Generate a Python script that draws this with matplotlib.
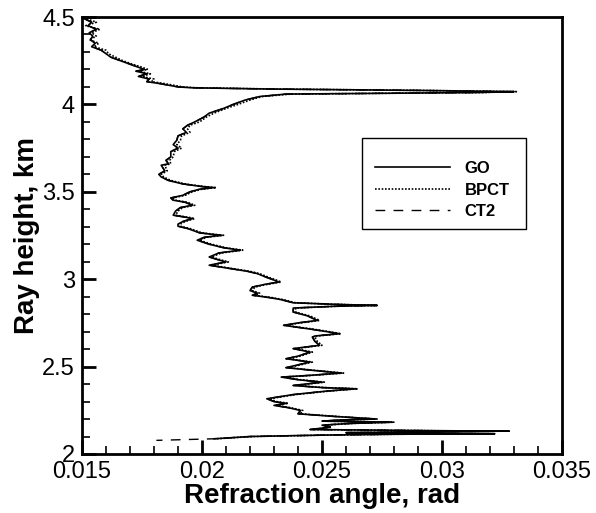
import matplotlib
matplotlib.use("Agg")
import matplotlib.pyplot as plt
from matplotlib.ticker import MultipleLocator
from matplotlib.patches import Rectangle

plt.rcParams['font.family'] = ['Liberation Sans', 'DejaVu Sans']

# Ray height (km), shared by the three profiles
height = [
    4.49, 4.47, 4.45, 4.43, 4.41, 4.39, 4.37, 4.35, 4.33, 4.31,
    4.29, 4.27, 4.25, 4.23, 4.215, 4.20, 4.19, 4.175, 4.16, 4.145,
    4.13, 4.12, 4.11, 4.10, 4.095, 4.088, 4.080, 4.073, 4.068, 4.063,
    4.059, 4.045, 4.025, 4.00, 3.977, 3.95, 3.929, 3.90, 3.881, 3.86,
    3.84, 3.82, 3.795, 3.77, 3.75, 3.73, 3.70, 3.68, 3.66, 3.652,
    3.62, 3.60, 3.585, 3.565, 3.545, 3.530, 3.524, 3.515, 3.50, 3.48,
    3.465, 3.452, 3.44, 3.423, 3.41, 3.39, 3.366, 3.355, 3.347, 3.33,
    3.315, 3.303, 3.29, 3.28, 3.265, 3.251, 3.24, 3.223, 3.20, 3.18,
    3.166, 3.15, 3.127, 3.11, 3.099, 3.08, 3.06, 3.045, 3.032, 3.01,
    2.995, 2.984, 2.97, 2.955, 2.935, 2.92, 2.908, 2.895, 2.883, 2.865,
    2.855, 2.850, 2.845, 2.835, 2.812, 2.79, 2.764, 2.75, 2.736, 2.715,
    2.700, 2.688, 2.675, 2.669, 2.645, 2.622, 2.603, 2.583, 2.56, 2.545,
    2.526, 2.51, 2.494, 2.48, 2.463, 2.45, 2.44, 2.425, 2.411, 2.40,
    2.392, 2.38, 2.373, 2.36, 2.34, 2.316, 2.30, 2.29, 2.278, 2.265,
    2.249, 2.23, 2.215, 2.20, 2.195, 2.188, 2.182, 2.175, 2.165, 2.153,
    2.14, 2.133, 2.131, 2.127, 2.122, 2.118, 2.116, 2.113, 2.108, 2.10,
    2.093, 2.087,
]

# Refraction angle (rad), GO
go_angle = [
    0.01510, 0.01540, 0.01525, 0.01560, 0.01530, 0.01545, 0.01535, 0.01555, 0.01540, 0.01580,
    0.01600, 0.01620, 0.01660, 0.01700, 0.01730, 0.01760, 0.01725, 0.01770, 0.01735, 0.01780,
    0.01770, 0.01820, 0.01860, 0.01900, 0.01960, 0.02280, 0.02900, 0.03300, 0.03150, 0.02700,
    0.02350, 0.02240, 0.02180, 0.02130, 0.02090, 0.02030, 0.02010, 0.01970, 0.01940, 0.01920,
    0.01935, 0.01900, 0.01895, 0.01880, 0.01900, 0.01870, 0.01870, 0.01850, 0.01860, 0.01830,
    0.01845, 0.01820, 0.01830, 0.01860, 0.01920, 0.02000, 0.02050, 0.01990, 0.01950, 0.01920,
    0.01870, 0.01880, 0.01930, 0.01960, 0.01910, 0.01890, 0.01880, 0.01930, 0.01960, 0.01920,
    0.01900, 0.01900, 0.01940, 0.01960, 0.01990, 0.02080, 0.02010, 0.01980, 0.02030, 0.02090,
    0.02160, 0.02070, 0.02030, 0.02070, 0.02100, 0.02030, 0.02120, 0.02190, 0.02230, 0.02270,
    0.02300, 0.02320, 0.02260, 0.02210, 0.02200, 0.02230, 0.02210, 0.02280, 0.02330, 0.02380,
    0.02580, 0.02730, 0.02550, 0.02380, 0.02380, 0.02440, 0.02480, 0.02400, 0.02340, 0.02450,
    0.02520, 0.02570, 0.02470, 0.02460, 0.02470, 0.02490, 0.02380, 0.02450, 0.02400, 0.02350,
    0.02450, 0.02400, 0.02350, 0.02450, 0.02580, 0.02450, 0.02330, 0.02400, 0.02500, 0.02430,
    0.02380, 0.02500, 0.02640, 0.02520, 0.02380, 0.02270, 0.02300, 0.02350, 0.02300, 0.02360,
    0.02410, 0.02400, 0.02550, 0.02730, 0.02580, 0.02500, 0.02800, 0.02620, 0.02500, 0.02530,
    0.02450, 0.03000, 0.03280, 0.02900, 0.02600, 0.03000, 0.03220, 0.02800, 0.02500, 0.02200,
    0.02120, 0.02050,
]

# Refraction angle (rad), BPCT
bpct_angle = [
    0.01520, 0.01560, 0.01515, 0.01575, 0.01540, 0.01560, 0.01530, 0.01570, 0.01550, 0.01600,
    0.01610, 0.01640, 0.01670, 0.01710, 0.01745, 0.01775, 0.01735, 0.01785, 0.01750, 0.01800,
    0.01790, 0.01840, 0.01880, 0.01920, 0.01980, 0.02300, 0.02920, 0.03310, 0.03170, 0.02720,
    0.02370, 0.02250, 0.02200, 0.02150, 0.02100, 0.02050, 0.02020, 0.01990, 0.01950, 0.01940,
    0.01950, 0.01915, 0.01910, 0.01895, 0.01915, 0.01885, 0.01880, 0.01865, 0.01870, 0.01845,
    0.01855, 0.01830, 0.01840, 0.01870, 0.01930, 0.02010, 0.02060, 0.02000, 0.01960, 0.01930,
    0.01880, 0.01890, 0.01940, 0.01970, 0.01920, 0.01900, 0.01890, 0.01940, 0.01970, 0.01930,
    0.01910, 0.01910, 0.01950, 0.01970, 0.02000, 0.02090, 0.02020, 0.01990, 0.02040, 0.02100,
    0.02170, 0.02080, 0.02040, 0.02080, 0.02110, 0.02040, 0.02130, 0.02200, 0.02240, 0.02280,
    0.02310, 0.02330, 0.02270, 0.02220, 0.02210, 0.02240, 0.02220, 0.02290, 0.02340, 0.02390,
    0.02590, 0.02720, 0.02560, 0.02390, 0.02390, 0.02450, 0.02490, 0.02410, 0.02350, 0.02460,
    0.02530, 0.02580, 0.02480, 0.02470, 0.02480, 0.02500, 0.02390, 0.02460, 0.02410, 0.02360,
    0.02460, 0.02410, 0.02360, 0.02460, 0.02590, 0.02460, 0.02340, 0.02410, 0.02510, 0.02440,
    0.02390, 0.02510, 0.02650, 0.02530, 0.02390, 0.02280, 0.02310, 0.02360, 0.02310, 0.02370,
    0.02420, 0.02410, 0.02560, 0.02720, 0.02590, 0.02510, 0.02790, 0.02630, 0.02510, 0.02540,
    0.02460, 0.02990, 0.03240, 0.02910, 0.02610, 0.02990, 0.03200, 0.02810, 0.02510, 0.02210,
    0.02130, 0.02060,
]

# CT2 follows GO and continues lower
ct2_tail_height = [2.083, 2.080, 2.078]
ct2_tail_angle = [0.01950, 0.01870, 0.01810]

series_labels = ["GO", "BPCT", "CT2"]
x_ticks = [0.015, 0.02, 0.025, 0.03, 0.035]
x_tick_labels = ["0.015", "0.02", "0.025", "0.03", "0.035"]
y_ticks = [2, 2.5, 3, 3.5, 4, 4.5]
y_tick_labels = ["2", "2.5", "3", "3.5", "4", "4.5"]

fig = plt.figure(figsize=(5.96, 5.13), dpi=100)
ax = fig.add_axes([82 / 596, 1 - 454 / 513, 480 / 596, 437 / 513])

ax.plot(go_angle, height, color="black", lw=1.2, ls="-", label=series_labels[0])
ax.plot(bpct_angle, height, color="black", lw=1.2, ls=(0, (1, 1)), label=series_labels[1])
ax.plot(go_angle + ct2_tail_angle, height + ct2_tail_height, color="black", lw=1.0,
        ls=(0, (7, 6)), label=series_labels[2])

ax.set_xlim(0.015, 0.035)
ax.set_ylim(2, 4.5)
ax.set_xticks(x_ticks)
ax.set_xticklabels(x_tick_labels)
ax.set_yticks(y_ticks)
ax.set_yticklabels(y_tick_labels)
ax.xaxis.set_minor_locator(MultipleLocator(0.001))
ax.yaxis.set_minor_locator(MultipleLocator(0.1))
ax.tick_params(which="both", direction="in", top=False, right=False, labelsize=17)
ax.tick_params(which="major", length=10, width=2, pad=5)
ax.tick_params(which="minor", length=6, width=1.2)
for s in ax.spines.values():
    s.set_linewidth(2)

ax.set_xlabel("Refraction angle, rad", fontsize=20, fontweight="bold", labelpad=0)
ax.set_ylabel("Ray height, km", fontsize=20, fontweight="bold", labelpad=2)

# legend box
ax.add_patch(Rectangle((0.583, 0.515), 0.342, 0.208, transform=ax.transAxes,
                       facecolor="white", edgecolor="black", lw=1.0, zorder=4))
leg = ax.legend(loc="upper left", bbox_to_anchor=(0.610, 0.670), borderaxespad=0,
                prop={"weight": "bold", "size": 12}, handlelength=4.5, handletextpad=0.9,
                labelspacing=0.38, borderpad=0.0, frameon=False)
leg.set_zorder(5)

fig.savefig("out.png", dpi=100)
